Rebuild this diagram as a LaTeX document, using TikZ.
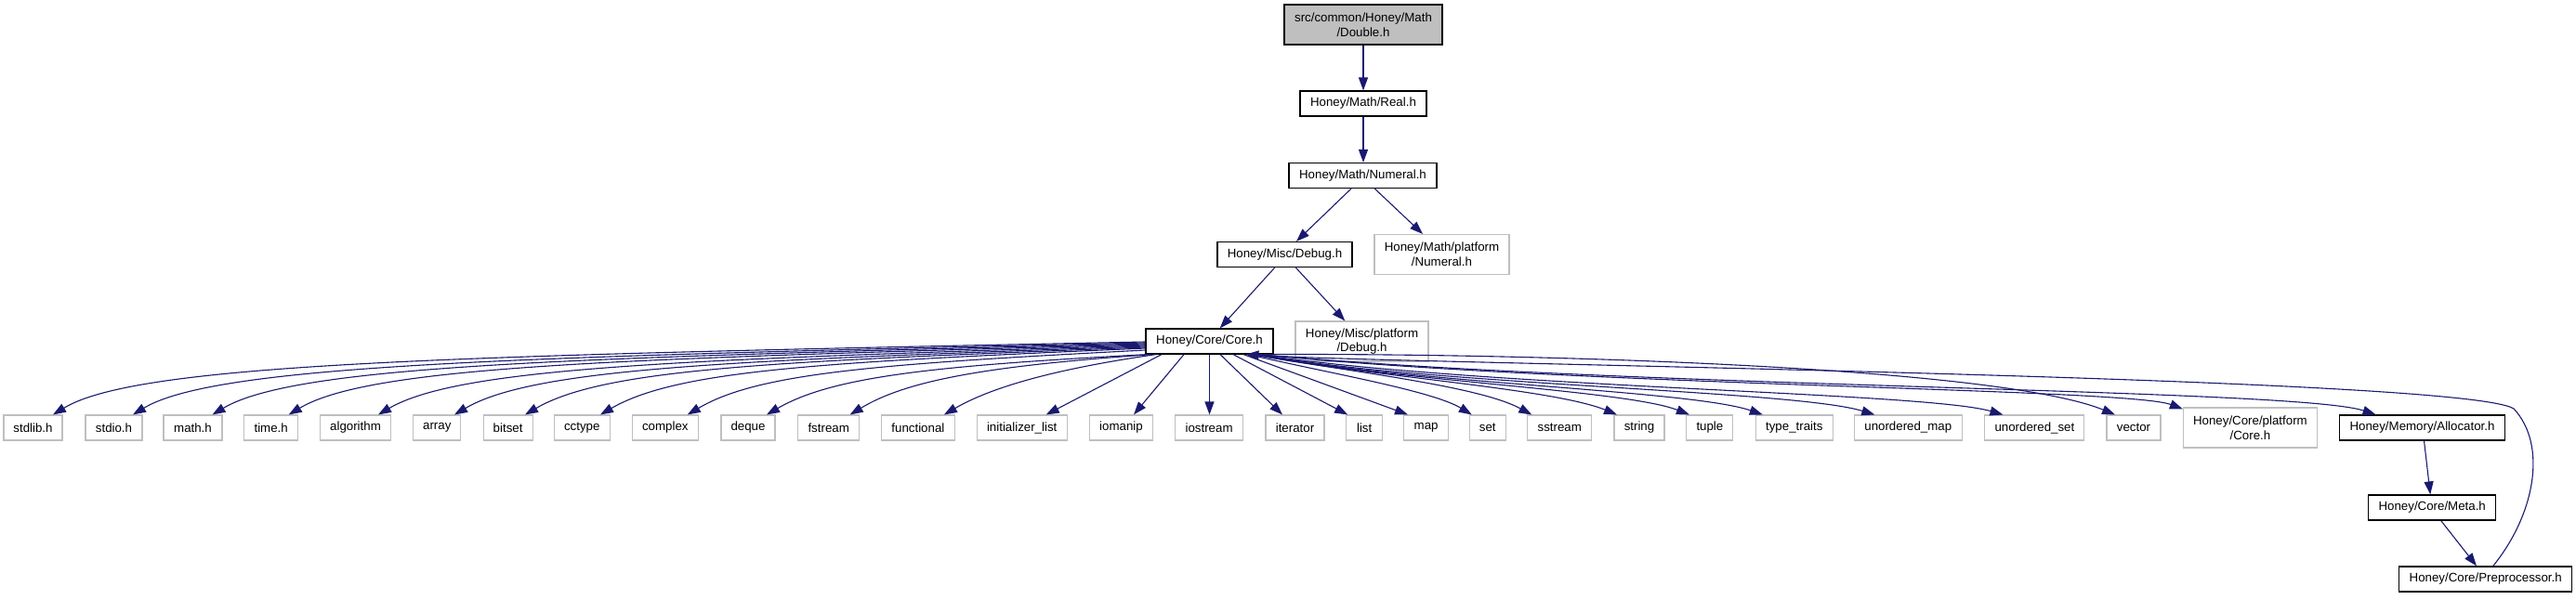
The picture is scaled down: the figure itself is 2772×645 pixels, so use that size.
\documentclass[tikz,border=0pt]{standalone}
\usepackage{fontspec}
\setmainfont{Liberation Sans}
\usetikzlibrary{arrows.meta}
\definecolor{grey75}{RGB}{191,191,191}
\definecolor{navyedge}{RGB}{25,25,112}
\begin{document}
\begin{tikzpicture}[x=1pt,y=-1pt,
  base/.style={rectangle, inner sep=0pt, minimum height=27pt, align=center,
    font=\fontsize{13.3}{15.7}\selectfont},
  hbox/.style={base, draw=black, line width=1.2pt},
  sysbox/.style={base, draw=grey75, line width=1.1pt},
  rootbox/.style={hbox, fill=grey75},
  conn/.style={draw=navyedge, line width=1.1pt, -{Triangle[length=14pt,width=10pt]}}]
\fill[white] (0,0) rectangle (2772,645);
\useasboundingbox (0,0) rectangle (2772,645);
% upper part
\node[rootbox, minimum width=170pt, minimum height=43pt] (dbl) at (1467,26.5) {src/common/Honey/Math\\/Double.h};
\node[hbox, minimum width=136pt] (real) at (1467,111.5) {Honey/Math/Real.h};
\node[hbox, minimum width=159pt] (numeral) at (1466.5,189) {Honey/Math/Numeral.h};
\node[hbox, minimum width=145pt] (debug) at (1382.5,274) {Honey/Misc/Debug.h};
\node[sysbox, minimum width=145pt, minimum height=43pt] (mplat) at (1551.5,274) {Honey/Math/platform\\/Numeral.h};
\node[hbox, minimum width=137pt] (core) at (1301.5,367.5) {Honey/Core/Core.h};
\node[sysbox, minimum width=143pt, minimum height=43pt] (dplat) at (1465.5,367.5) {Honey/Misc/platform\\/Debug.h};
% bottom row
\node[sysbox, minimum width=63pt] (stdlib) at (35.5,460.5) {stdlib.h};
\node[sysbox, minimum width=61pt] (stdio) at (122.5,460.5) {stdio.h};
\node[sysbox, minimum width=63pt] (math) at (207.5,460.5) {math.h};
\node[sysbox, minimum width=58pt] (time) at (291.7,460.5) {time.h};
\node[sysbox, minimum width=76pt] (algorithm) at (382.5,460.5) {algorithm};
\node[sysbox, minimum width=51pt] (array) at (470.3,460.5) {array};
\node[sysbox, minimum width=53pt] (bitset) at (546.6,460.5) {bitset};
\node[sysbox, minimum width=60pt] (cctype) at (626.3,460.5) {cctype};
\node[sysbox, minimum width=71pt] (complex) at (715.8,460.5) {complex};
\node[sysbox, minimum width=58pt] (deque) at (805,460.5) {deque};
\node[sysbox, minimum width=66pt] (fstream) at (891.7,460.5) {fstream};
\node[sysbox, minimum width=79pt] (functional) at (987.9,460.5) {functional};
\node[sysbox, minimum width=97pt] (initlist) at (1099.7,460.5) {initializer\_list};
\node[sysbox, minimum width=68pt] (iomanip) at (1206.5,460.5) {iomanip};
\node[sysbox, minimum width=73pt] (iostream) at (1301.1,460.5) {iostream};
\node[sysbox, minimum width=63pt] (iterator) at (1393.5,460.5) {iterator};
\node[sysbox, minimum width=39pt] (list) at (1468.2,460.5) {list};
\node[sysbox, minimum width=48pt] (map) at (1534.6,460.5) {map};
\node[sysbox, minimum width=39pt] (set) at (1600.8,460.5) {set};
\node[sysbox, minimum width=69pt] (sstream) at (1678.3,460.5) {sstream};
\node[sysbox, minimum width=54pt] (string) at (1764,460.5) {string};
\node[sysbox, minimum width=50pt] (tuple) at (1839.9,460.5) {tuple};
\node[sysbox, minimum width=83pt] (typetraits) at (1930.8,460.5) {type\_traits};
\node[sysbox, minimum width=116pt] (umap) at (2053.3,460.5) {unordered\_map};
\node[sysbox, minimum width=107pt] (uset) at (2189.4,460.5) {unordered\_set};
\node[sysbox, minimum width=58pt] (vector) at (2296,460.5) {vector};
\node[sysbox, minimum width=144pt, minimum height=43pt] (cplat) at (2421.4,460.5) {Honey/Core/platform\\/Core.h};
\node[hbox, minimum width=178pt] (alloc) at (2606.5,460.5) {Honey/Memory/Allocator.h};
\node[hbox, minimum width=137pt] (meta) at (2617.2,546.5) {Honey/Core/Meta.h};
\node[hbox, minimum width=186pt] (prep) at (2674.7,623.5) {Honey/Core/Preprocessor.h};
% upper edges
\draw[conn] (dbl.south) -- (real.north);
\draw[conn] (real.south) -- (real.south |- numeral.north);
\draw[conn] ([xshift=-12.5pt]numeral.south) -- ([xshift=12.5pt]debug.north);
\draw[conn] ([xshift=12.8pt]numeral.south) -- ([xshift=-20.5pt]mplat.north);
\draw[conn] ([xshift=-10.8pt]debug.south) -- ([xshift=11.2pt]core.north);
\draw[conn] ([xshift=11.8pt]debug.south) -- ([xshift=-18.2pt]dplat.north);
% left edges
\draw[conn] ([yshift=-0.5pt]core.west) .. controls (500,383) and (150,390) .. ([xshift=21.5pt]stdlib.north);
\draw[conn] ([yshift=-1.5pt]core.west) .. controls (580,384) and (235,391) .. ([xshift=20.5pt]stdio.north);
\draw[conn] ([yshift=-2.5pt]core.west) .. controls (630,385) and (320,392) .. ([xshift=21pt]math.north);
\draw[conn] ([yshift=-3.5pt]core.west) .. controls (680,386) and (400,393) .. ([xshift=19pt]time.north);
\draw[conn] ([yshift=-4.5pt]core.west) .. controls (740,387) and (495,395) .. ([xshift=24.5pt]algorithm.north);
\draw[conn] ([yshift=-5.5pt]core.west) .. controls (790,388) and (575,396) .. ([xshift=18.7pt]array.north);
\draw[conn] ([yshift=-6.5pt]core.west) .. controls (830,389) and (650,397) .. ([xshift=18.4pt]bitset.north);
\draw[conn] ([yshift=-7.5pt]core.west) .. controls (880,390) and (728,399) .. ([xshift=19.7pt]cctype.north);
\draw[conn] ([yshift=-9.5pt]core.west) .. controls (940,392) and (815,402) .. ([xshift=24pt]complex.north);
\draw[conn] ([xshift=-66.5pt]core.south) .. controls (1000,394) and (895,406) .. ([xshift=20pt]deque.north);
\draw[conn] ([xshift=-61.5pt]core.south) .. controls (1060,394) and (975,410) .. ([xshift=23pt]fstream.north);
\draw[conn] ([xshift=-57.5pt]core.south) .. controls (1130,398) and (1065,418) .. ([xshift=28pt]functional.north);
\draw[conn] ([xshift=-51.5pt]core.south) -- ([xshift=26pt]initlist.north);
\draw[conn] ([xshift=-27.5pt]core.south) -- ([xshift=13.5pt]iomanip.north);
\draw[conn] (core.south) -- (core.south |- iostream.north);
\draw[conn] ([xshift=11.5pt]core.south) -- ([xshift=-13.5pt]iterator.north);
\draw[conn] ([xshift=25.5pt]core.south) -- ([xshift=-18pt]list.north);
\draw[conn] ([xshift=36.5pt]core.south) -- ([xshift=-19.6pt]map.north);
\draw[conn] ([xshift=42.5pt]core.south) .. controls (1420,400) and (1540,420) .. ([xshift=-17pt]set.north);
% right edges
\draw[conn] ([xshift=46pt]core.south) .. controls (1450,400) and (1590,415) .. ([xshift=-30pt]sstream.north);
\draw[conn] ([xshift=47pt]core.south) .. controls (1470,405) and (1670,418) .. ([xshift=-24pt]string.north);
\draw[conn] ([xshift=48pt]core.south) .. controls (1500,410) and (1750,420) .. ([xshift=-22pt]tuple.north);
\draw[conn] ([xshift=49pt]core.south) .. controls (1520,413) and (1820,420) .. ([xshift=-34pt]typetraits.north);
\draw[conn] ([xshift=50pt]core.south) .. controls (1540,415) and (1930,420) .. ([xshift=-36pt]umap.north);
\draw[conn] ([xshift=51pt]core.south) .. controls (1600,418) and (2070,422) .. ([xshift=-34pt]uset.north);
\draw[conn] ([xshift=52pt]core.south) .. controls (1650,380) and (2150,395) .. ([xshift=-20pt]vector.north);
\draw[conn] ([xshift=53pt]core.south) .. controls (1700,416) and (2290,418) .. ([yshift=-2pt]cplat.north west);
\draw[conn] ([xshift=54pt]core.south) .. controls (1750,418) and (2470,418) .. ([xshift=-50pt]alloc.north);
% lower chain
\draw[conn] ([xshift=2pt]alloc.south) -- ([xshift=-2pt]meta.north);
\draw[conn] ([xshift=9.5pt]meta.south) -- ([xshift=-9.7pt]prep.north);
\draw[conn] ([xshift=8pt]prep.north) .. controls (2727,555) and (2742,480) .. (2705,440)
  .. controls (2650,405) and (1500,392) .. ([xshift=39pt]core.south);
\end{tikzpicture}
\end{document}
